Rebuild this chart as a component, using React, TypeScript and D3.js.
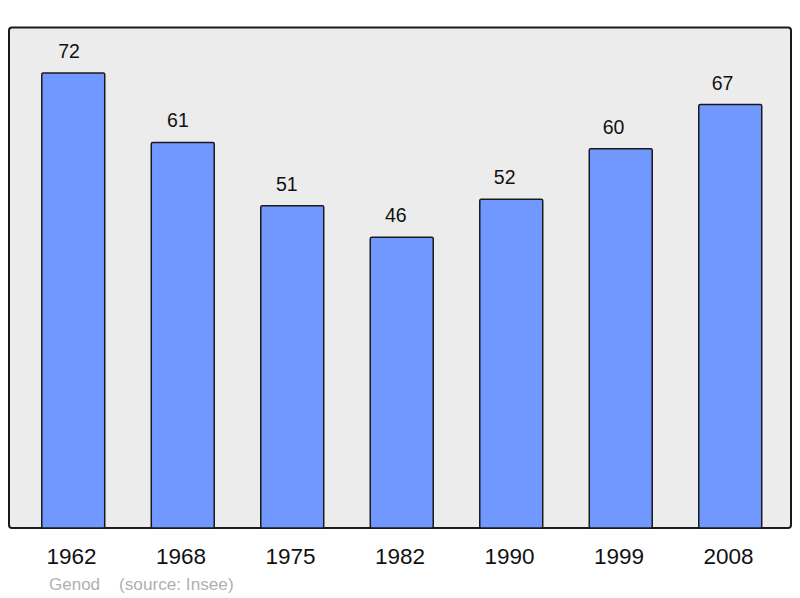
import { useEffect, useRef } from "react";
import * as d3 from "d3";

const annees = ["1962", "1968", "1975", "1982", "1990", "1999", "2008"];
const population = [72, 61, 51, 46, 52, 60, 67];
const credit = "Genod";
const source = "(source: Insee)";

export default function App() {
  const svgRef = useRef<SVGSVGElement>(null);
  const W = 800;
  const H = 598;

  useEffect(() => {
    if (!svgRef.current) return;
    const svg = d3.select(svgRef.current);
    svg.selectAll("*").remove();

    const base = 528;
    const x = d3
      .scaleBand()
      .domain(annees)
      .range([18.5, 785])
      .paddingInner(0.425)
      .paddingOuter(0.2125);
    // les étiquettes de valeur sont légèrement décalées vers la gauche
    const xValeur = d3.scalePoint().domain(annees).range([69, 722.5]);
    const y = d3.scaleLinear().domain([0, 80]).range([base, base - 80 * 6.32]);

    // panneau de fond
    svg
      .append("rect")
      .attr("x", 9)
      .attr("y", 27.5)
      .attr("width", 782)
      .attr("height", 500.5)
      .attr("rx", 3)
      .attr("fill", "#ececec")
      .attr("stroke", "#1a1a1a")
      .attr("stroke-width", 2);

    svg
      .selectAll("rect.barre")
      .data(annees)
      .enter()
      .append("rect")
      .attr("class", "barre")
      .attr("x", (d) => x(d) || 0)
      .attr("y", (_d, i) => y(population[i]))
      .attr("width", x.bandwidth())
      .attr("height", (_d, i) => base - y(population[i]))
      .attr("rx", 1.5)
      .attr("fill", "#7098ff")
      .attr("stroke", "#1a1a1a")
      .attr("stroke-width", 1.5);

    svg
      .selectAll("text.valeur")
      .data(annees)
      .enter()
      .append("text")
      .attr("class", "valeur")
      .attr("x", (d) => xValeur(d) || 0)
      .attr("y", (_d, i) => y(population[i]) - 15)
      .attr("text-anchor", "middle")
      .attr("fill", "#111")
      .attr("font-size", 19.5)
      .attr("font-family", "Liberation Sans, Arial, sans-serif")
      .text((_d, i) => String(population[i]));

    svg
      .selectAll("text.annee")
      .data(annees)
      .enter()
      .append("text")
      .attr("class", "annee")
      .attr("x", (d) => (x(d) || 0) + x.bandwidth() / 2 - 1.8)
      .attr("y", 564)
      .attr("text-anchor", "middle")
      .attr("fill", "#111")
      .attr("font-size", 22.5)
      .attr("font-family", "Liberation Sans, Arial, sans-serif")
      .text((d) => d);

    svg
      .append("text")
      .attr("x", 49)
      .attr("y", 590)
      .attr("fill", "#b0b0b0")
      .attr("font-size", 17)
      .attr("font-family", "Liberation Sans, Arial, sans-serif")
      .text(credit);

    svg
      .append("text")
      .attr("x", 119)
      .attr("y", 590)
      .attr("fill", "#b0b0b0")
      .attr("font-size", 17.2)
      .attr("font-family", "Liberation Sans, Arial, sans-serif")
      .text(source);
  }, []);

  return (
    <svg
      ref={svgRef}
      width={W}
      height={H}
      viewBox={`0 0 ${W} ${H}`}
      style={{ position: "absolute", left: 0, top: 0, background: "#fff" }}
    />
  );
}
